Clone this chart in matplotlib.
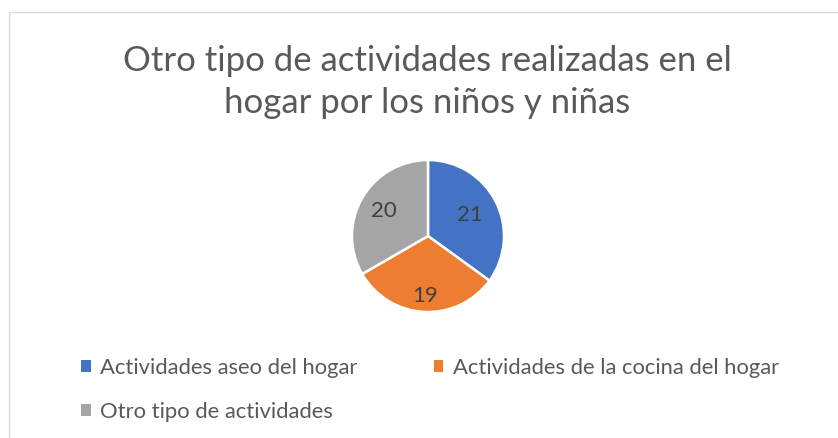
import matplotlib
matplotlib.use("Agg")
import numpy as np
import matplotlib.pyplot as plt
from matplotlib.patches import Patch, Rectangle

plt.rcParams['font.family'] = ['Lato', 'DejaVu Sans']

title = "Otro tipo de actividades realizadas en el\nhogar por los niños y niñas"
categories = ["Actividades aseo del hogar",
              "Actividades de la cocina del hogar",
              "Otro tipo de actividades"]
values = [21, 19, 20]
colors = ["#4472C4", "#ED7D31", "#A5A5A5"]
label_dist = [0.62, 0.79, 0.67]

W, H = 838, 438
fig = plt.figure(figsize=(W / 100, H / 100), dpi=100)

# chart frame (only top and left edges visible in the crop)
fig.add_artist(Rectangle((9 / W, -0.1), 1.2, (H - 12) / H + 0.1, transform=fig.transFigure,
                         fill=False, edgecolor="#D9D9D9", linewidth=1.0))

fig.text(427 / W, 1 - 82 / H, title, ha="center", va="center", fontsize=25,
         color="#595959", linespacing=1.4)

ax = fig.add_axes([352 / W, 1 - 312 / H, 152 / W, 152 / H])
wedges, _ = ax.pie(values, colors=colors, startangle=90, counterclock=False,
                   radius=1, wedgeprops=dict(edgecolor="white", linewidth=1.8))
for w, v, d in zip(wedges, values, label_dist):
    mid = np.deg2rad((w.theta1 + w.theta2) / 2)
    ax.text(d * np.cos(mid), d * np.sin(mid), str(v), ha="center", va="center",
            fontsize=16, color="#404040")
ax.set_xlim(-1, 1)
ax.set_ylim(-1, 1)
ax.set_aspect("equal")
ax.axis("off")

handles = [Patch(facecolor=c, edgecolor="none") for c in colors]
order = [0, 2, 1]
fig.legend([handles[i] for i in order], [categories[i] for i in order],
           ncol=2, loc="upper left", bbox_to_anchor=(61 / W, 1 - 338 / H),
           frameon=False, fontsize=15.8, labelcolor="#595959",
           handlelength=0.45, handleheight=0.45, handletextpad=0.45,
           columnspacing=3.45, labelspacing=1.1)

fig.savefig("out.png", dpi=100)
